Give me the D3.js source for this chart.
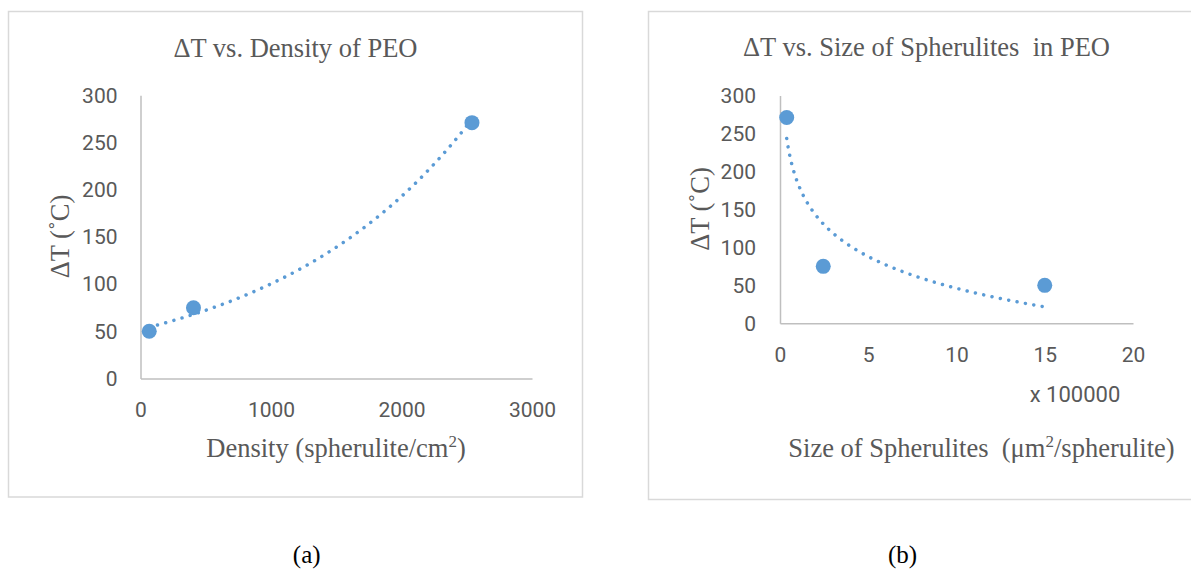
<!DOCTYPE html>
<html>
<head>
<meta charset="utf-8">
<script src="https://cdn.jsdelivr.net/npm/d3@7"></script>
<style>
    body { margin: 0; background: #fff; }
    text { white-space: pre; }
</style>
</head>
<body>
<div id="chart"></div>
<script>
const deltaTicks = [0, 50, 100, 150, 200, 250, 300];

// (a) density of PEO
const densityTicks = [0, 1000, 2000, 3000];
const densityX = [67, 406, 2540];
const densityDT = [50, 75, 271];

// (b) size of spherulites, axis shown in units of 100000
const sizeTicks = [0, 500000, 1000000, 1500000, 2000000];
const sizeX = [38000, 245000, 1500000];
const sizeDT = [271, 75, 50];

const blue = '#5b9bd5';
const grey = '#595959';
const serif = "'Liberation Serif', 'Times New Roman', serif";
const sans = "Roboto, 'Open Sans', sans-serif";

// excel style exponential trendline: ln y = ln a + b x
const expFit = (xs, ys) => {
    const ly = ys.map(Math.log);
    const mx = d3.mean(xs), my = d3.mean(ly);
    const b = d3.sum(xs, (x, i) => (x - mx) * (ly[i] - my)) / d3.sum(xs, x => (x - mx) ** 2);
    const a = Math.exp(my - b * mx);
    return x => a * Math.exp(b * x);
};

// logarithmic trendline: y = a + b ln x
const logFit = (xs, ys) => {
    const lx = xs.map(Math.log);
    const mx = d3.mean(lx), my = d3.mean(ys);
    const b = d3.sum(lx, (x, i) => (x - mx) * (ys[i] - my)) / d3.sum(lx, x => (x - mx) ** 2);
    const a = my - b * mx;
    return x => a + b * Math.log(x);
};

const svg = d3.select('#chart').append('svg')
    .attr('width', 1191)
    .attr('height', 569);

const drawPanel = (opt) => {
    const g = svg.append('g');

    g.append('rect')
        .attr('x', opt.frame[0])
        .attr('y', opt.frame[1])
        .attr('width', opt.frame[2])
        .attr('height', opt.frame[3])
        .attr('fill', '#fff')
        .attr('stroke', '#d9d9d9')
        .attr('stroke-width', 1.5);

    const x = d3.scaleLinear().domain(opt.xDomain).range(opt.xRange);
    const y = d3.scaleLinear().domain([0, 300]).range(opt.yRange);

    const xAxis = g.append('g')
        .attr('transform', `translate(0,${opt.yRange[0]})`)
        .call(d3.axisBottom(x).tickValues(opt.xTicks).tickSize(0).tickPadding(24)
            .tickFormat(opt.xFormat));
    const yAxis = g.append('g')
        .attr('transform', `translate(${opt.xRange[0]},0)`)
        .call(d3.axisLeft(y).tickValues(deltaTicks).tickSize(0).tickPadding(opt.yPad));

    [xAxis, yAxis].forEach(ax => {
        ax.select('.domain').attr('stroke', '#bfbfbf').attr('stroke-width', 1.5);
        ax.selectAll('text')
            .attr('fill', grey)
            .style('font-family', sans)
            .style('font-size', '21px');
    });

    // trendline, dotted
    const lo = d3.min(opt.xs), hi = d3.max(opt.xs);
    const samples = d3.range(0, 201).map(i => lo + (hi - lo) * i / 200);
    g.append('path')
        .datum(samples)
        .attr('fill', 'none')
        .attr('stroke', blue)
        .attr('stroke-width', 3.5)
        .attr('stroke-linecap', 'round')
        .attr('stroke-dasharray', '0.01 8.5')
        .attr('d', d3.line().x(d => x(d)).y(d => y(opt.fit(d))));

    g.selectAll('.pt')
        .data(opt.xs)
        .enter().append('circle')
        .attr('class', 'pt')
        .attr('cx', d => x(d))
        .attr('cy', (d, i) => y(opt.ys[i]))
        .attr('r', 7.5)
        .attr('fill', blue);

    g.append('text')
        .attr('x', opt.titlePos[0])
        .attr('y', opt.titlePos[1])
        .attr('text-anchor', 'middle')
        .attr('fill', grey)
        .style('font-family', serif)
        .style('font-size', '26.5px')
        .text(opt.title);

    g.append('text')
        .attr('transform', `translate(${opt.yTitlePos[0]},${opt.yTitlePos[1]}) rotate(-90)`)
        .attr('text-anchor', 'middle')
        .attr('fill', grey)
        .style('font-family', serif)
        .style('font-size', '26.5px')
        .text('\u0394T (\u02DAC)');

    const xt = g.append('text')
        .attr('x', opt.xTitlePos[0])
        .attr('y', opt.xTitlePos[1])
        .attr('text-anchor', 'middle')
        .attr('fill', grey)
        .style('font-family', serif)
        .style('font-size', '26.5px');
    xt.append('tspan').text(opt.xTitle[0]);
    xt.append('tspan').attr('dy', -10).style('font-size', '17px').text('2');
    xt.append('tspan').attr('dy', 10).text(opt.xTitle[1]);

    g.append('text')
        .attr('x', opt.labelPos[0])
        .attr('y', opt.labelPos[1])
        .attr('text-anchor', 'middle')
        .attr('fill', '#000')
        .style('font-family', serif)
        .style('font-size', '25px')
        .text(opt.label);

    return g;
};

drawPanel({
    frame: [8.5, 11.5, 574, 485.5],
    xDomain: [0, 3000], xRange: [140.5, 532],
    yRange: [378.5, 95.3], yPad: 23,
    xTicks: densityTicks, xFormat: d3.format('d'),
    xs: densityX, ys: densityDT, fit: expFit(densityX, densityDT),
    title: '\u0394T vs. Density of PEO', titlePos: [295.5, 56.5],
    yTitlePos: [69, 236.5],
    xTitle: ['Density (spherulite/cm', ')'], xTitlePos: [336, 457],
    label: '(a)', labelPos: [306.7, 563]
});

const right = drawPanel({
    frame: [648.5, 11.5, 560, 488],
    xDomain: [0, 2000000], xRange: [780, 1133],
    yRange: [323.3, 95.5], yPad: 24,
    xTicks: sizeTicks, xFormat: d => d / 100000,
    xs: sizeX, ys: sizeDT, fit: logFit(sizeX, sizeDT),
    title: '\u0394T vs. Size of Spherulites  in PEO', titlePos: [926.5, 56],
    yTitlePos: [708.5, 209],
    xTitle: ['Size of Spherulites  (\u03BCm', '/spherulite)'], xTitlePos: [981.5, 457],
    label: '(b)', labelPos: [902.5, 563]
});

right.append('text')
    .attr('x', 1075)
    .attr('y', 402)
    .attr('text-anchor', 'middle')
    .attr('fill', grey)
    .style('font-family', sans)
    .style('font-size', '22px')
    .text('x 100000');
</script>
</body>
</html>
